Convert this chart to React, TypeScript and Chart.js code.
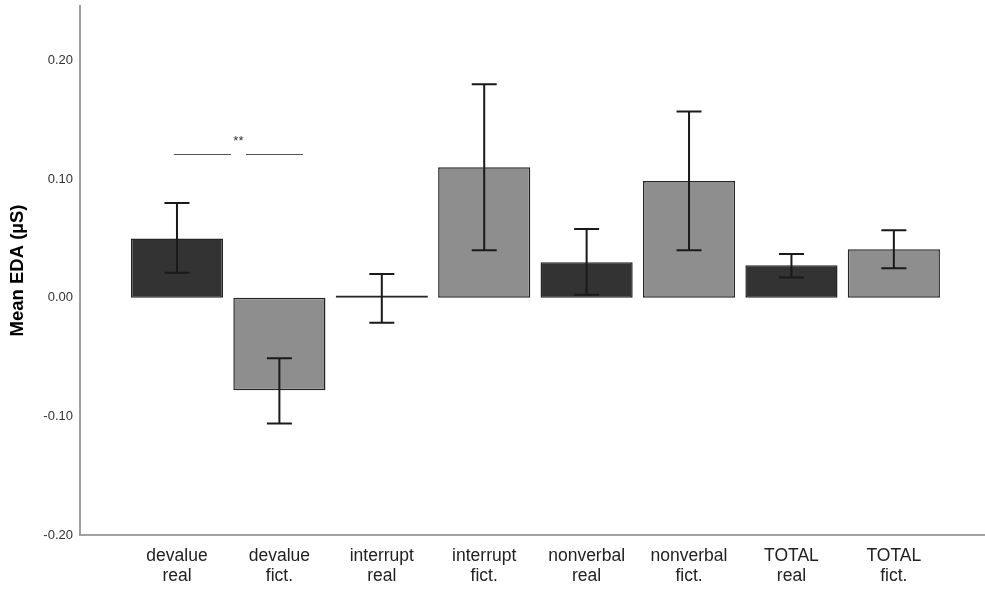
import React, { useEffect, useRef } from "react";
import { Chart, registerables } from "chart.js";

Chart.register(...registerables);

// Condition labels (two lines each)
const categories: string[][] = [
  ["devalue", "real"],
  ["devalue", "fict."],
  ["interrupt", "real"],
  ["interrupt", "fict."],
  ["nonverbal", "real"],
  ["nonverbal", "fict."],
  ["TOTAL", "real"],
  ["TOTAL", "fict."],
];

// Mean EDA per condition (µS)
const means: number[] = [0.05, -0.078, 0.002, 0.11, 0.03, 0.0985, 0.0275, 0.041];
// Error bar limits
const errLow: number[] = [0.021, -0.106, -0.021, 0.04, 0.0025, 0.04, 0.017, 0.025];
const errHigh: number[] = [0.08, -0.051, 0.02, 0.18, 0.058, 0.157, 0.037, 0.057];

// Condition type: real (dark) vs fictional (light)
const kinds: string[] = ["real", "fict", "real", "fict", "real", "fict", "real", "fict"];

const yTicks: number[] = [-0.2, -0.1, 0, 0.1, 0.2];

// Significance bracket between devalue real and devalue fict.
const sigLevel = 0.121;
const sigLeft: [number, number] = [-0.03, 0.527];
const sigRight: [number, number] = [0.674, 1.23];
const sigLabel = "**";
const sigLabelX = 0.6;
const sigLabelY = 0.132;

const DARK = "#333333";
const LIGHT = "#8e8e8e";
const FONT = "'Liberation Sans', Arial, sans-serif";

const errorBarPlugin = {
  id: "errorBars",
  afterDatasetsDraw(chart: any) {
    const { ctx, scales } = chart;
    const xs = scales.x;
    const ys = scales.y;
    ctx.save();
    ctx.strokeStyle = "#1a1a1a";
    ctx.lineWidth = 2;
    const half = 12.5;
    means.forEach((_, i) => {
      const px = xs.getPixelForValue(i);
      const lo = ys.getPixelForValue(errLow[i]);
      const hi = ys.getPixelForValue(errHigh[i]);
      ctx.beginPath();
      ctx.moveTo(px, lo);
      ctx.lineTo(px, hi);
      ctx.moveTo(px - half, lo);
      ctx.lineTo(px + half, lo);
      ctx.moveTo(px - half, hi);
      ctx.lineTo(px + half, hi);
      ctx.stroke();
    });

    // significance marker
    const sy = Math.round(ys.getPixelForValue(sigLevel)) + 0.5;
    ctx.strokeStyle = "#555555";
    ctx.lineWidth = 1;
    ctx.beginPath();
    ctx.moveTo(xs.getPixelForValue(sigLeft[0]), sy);
    ctx.lineTo(xs.getPixelForValue(sigLeft[1]), sy);
    ctx.moveTo(xs.getPixelForValue(sigRight[0]), sy);
    ctx.lineTo(xs.getPixelForValue(sigRight[1]), sy);
    ctx.stroke();
    ctx.fillStyle = "#333333";
    ctx.font = `13px ${FONT}`;
    ctx.textAlign = "center";
    ctx.textBaseline = "middle";
    ctx.fillText(sigLabel, xs.getPixelForValue(sigLabelX), ys.getPixelForValue(sigLabelY));
    ctx.restore();
  },
};

export default function App() {
  const canvasRef = useRef<HTMLCanvasElement | null>(null);

  useEffect(() => {
    if (!canvasRef.current) return;
    const chart = new Chart(canvasRef.current, {
      type: "bar",
      data: {
        datasets: [
          {
            data: means.map((v, i) => ({ x: i, y: v })),
            backgroundColor: kinds.map((k) => (k === "real" ? DARK : LIGHT)),
            borderColor: "#262626",
            borderWidth: 1.5,
            borderSkipped: false,
            categoryPercentage: 1,
            barPercentage: 0.9,
          },
        ],
      },
      options: {
        animation: false,
        responsive: true,
        maintainAspectRatio: false,
        layout: { padding: { top: 6, left: 0, right: 0, bottom: 0 } },
        plugins: {
          legend: { display: false },
          tooltip: { enabled: false },
        },
        scales: {
          x: {
            type: "linear",
            min: -0.947,
            max: 7.89,
            offset: false,
            grid: { display: false, drawTicks: false },
            border: { display: true, color: "#a0a0a0", width: 2 },
            afterBuildTicks: (scale: any) => {
              scale.ticks = categories.map((_, i) => ({ value: i }));
            },
            afterFit: (scale: any) => {
              scale.height = 54;
              scale.paddingLeft = 0;
              scale.paddingRight = 0;
            },
            ticks: {
              autoSkip: false,
              maxRotation: 0,
              minRotation: 0,
              padding: 12,
              color: "#222222",
              font: { family: FONT, size: 17.5, lineHeight: 1.1 },
              callback: (value: any) => categories[value as number] ?? "",
            },
          },
          y: {
            type: "linear",
            min: -0.2,
            max: 0.246,
            grid: { display: false, drawTicks: false },
            border: { display: true, color: "#a0a0a0", width: 2 },
            afterBuildTicks: (scale: any) => {
              scale.ticks = yTicks.map((v) => ({ value: v }));
            },
            afterFit: (scale: any) => {
              scale.width = 80;
              scale.paddingTop = 0;
              scale.paddingBottom = 0;
            },
            title: {
              display: true,
              text: "Mean EDA (µS)",
              color: "#000000",
              font: { family: FONT, size: 18.5, weight: "bold" },
              padding: { top: 7, bottom: 0 },
            },
            ticks: {
              padding: 7,
              color: "#333333",
              font: { family: FONT, size: 13 },
              callback: (value: any) => Number(value).toFixed(2),
            },
          },
        },
      },
      plugins: [errorBarPlugin],
    });
    return () => chart.destroy();
  }, []);

  return (
    <div style={{ position: "absolute", left: 0, top: 0, width: 985, height: 589, background: "#ffffff" }}>
      <canvas ref={canvasRef} />
    </div>
  );
}
